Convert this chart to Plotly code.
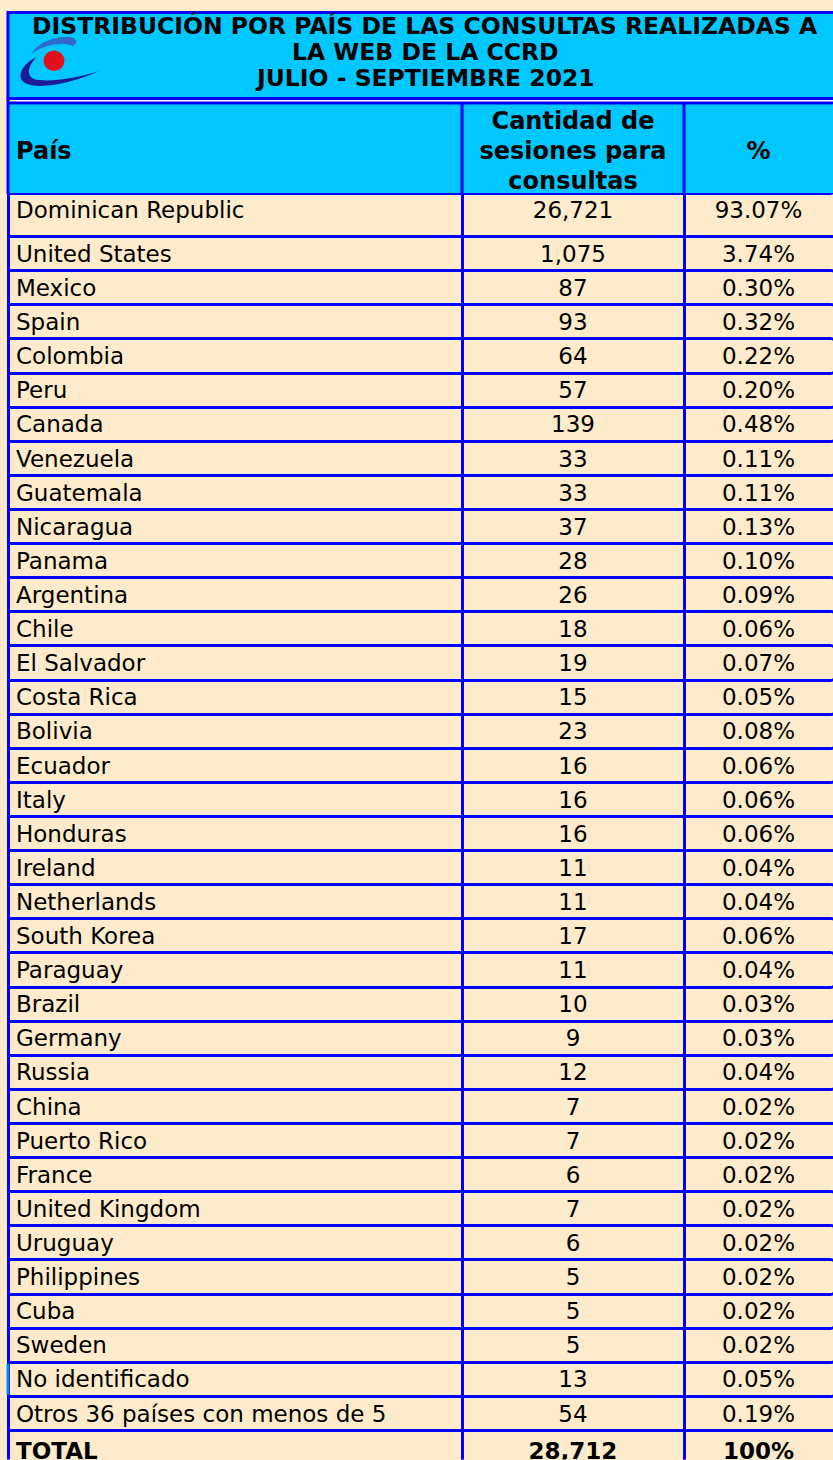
import plotly.graph_objects as go

# ---------------- data ----------------
title_lines = [
    "DISTRIBUCIÓN POR PAÍS DE LAS CONSULTAS REALIZADAS A",
    "LA WEB DE LA CCRD",
    "JULIO - SEPTIEMBRE 2021",
]
header_labels = ["País", ["Cantidad de", "sesiones para", "consultas"], "%"]

countries = [
    "Dominican Republic", "United States", "Mexico", "Spain", "Colombia", "Peru",
    "Canada", "Venezuela", "Guatemala", "Nicaragua", "Panama", "Argentina", "Chile",
    "El Salvador", "Costa Rica", "Bolivia", "Ecuador", "Italy", "Honduras", "Ireland",
    "Netherlands", "South Korea", "Paraguay", "Brazil", "Germany", "Russia", "China",
    "Puerto Rico", "France", "United Kingdom", "Uruguay", "Philippines", "Cuba",
    "Sweden", "No identificado", "Otros 36 países con menos de 5",
]
sessions = [
    26721, 1075, 87, 93, 64, 57, 139, 33, 33, 37, 28, 26, 18, 19, 15, 23, 16, 16,
    16, 11, 11, 17, 11, 10, 9, 12, 7, 7, 6, 7, 6, 5, 5, 5, 13, 54,
]
percents = [
    93.07, 3.74, 0.30, 0.32, 0.22, 0.20, 0.48, 0.11, 0.11, 0.13, 0.10, 0.09, 0.06,
    0.07, 0.05, 0.08, 0.06, 0.06, 0.06, 0.04, 0.04, 0.06, 0.04, 0.03, 0.03, 0.04,
    0.02, 0.02, 0.02, 0.02, 0.02, 0.02, 0.02, 0.02, 0.05, 0.19,
]
total_label = "TOTAL"
total_sessions = 28712
total_percent = "100%"

# ---------------- style / layout constants ----------------
W, H = 833, 1460
CREAM = "#FDEBCB"
CYAN = "#00C8FF"
BLUE = "#0000FF"
FONT = "DejaVu Sans"
LEFT = 8                      # table left edge (px)
COLW = [454, 222, 149]        # column widths (px)
TOP = 103                     # table top (px)
HDR_SUB = 30                  # height of each header sub-line row
FIRST_ROW = 43.6              # first (taller) data row
ROW = 34.11                   # other data rows
BODY_SIZE = 23


def fx(x):
    return x / W


def fy(y):
    return 1 - y / H


def path(cmds):
    out = []
    for letter, pts in cmds:
        out.append(letter + " " + " ".join(f"{fx(x):.5f},{fy(y):.5f}" for x, y in pts))
    return " ".join(out) + " Z"


edges = [LEFT]
for w in COLW:
    edges.append(edges[-1] + w)
hdr_bottom = TOP + 3 * HDR_SUB
a_bottom = hdr_bottom + FIRST_ROW

# formatted columns
names = list(countries) + [f"<b>{total_label}</b>"]
sess_txt = [f"{v:,}" for v in sessions] + [f"<b>{total_sessions:,}</b>"]
pct_txt = [f"{p:.2f}%" for p in percents] + [f"<b>{total_percent}</b>"]

header_rows = [
    ["", header_labels[0], ""],
    header_labels[1],
    ["", header_labels[2], ""],
]

# Table A: column titles + first (taller) data row
table_a = go.Table(
    domain=dict(x=[fx(LEFT), 1], y=[fy(a_bottom + 6), fy(TOP)]),
    columnwidth=COLW,
    header=dict(
        values=header_rows,
        fill_color=CYAN,
        line=dict(color=CYAN, width=0),
        align=["left", "center", "center"],
        font=dict(family=FONT, size=24, color="black", weight="bold"),
        height=HDR_SUB,
    ),
    cells=dict(
        values=[names[:1], sess_txt[:1], pct_txt[:1]],
        fill_color=CREAM,
        line=dict(color=BLUE, width=3),
        align=["left", "center", "center"],
        font=dict(family=FONT, size=BODY_SIZE, color="black"),
        height=FIRST_ROW,
    ),
)

# Table B: remaining rows (second data row acts as the leading row)
table_b = go.Table(
    domain=dict(x=[fx(LEFT), 1], y=[0, fy(a_bottom)]),
    columnwidth=COLW,
    header=dict(
        values=[names[1], sess_txt[1], pct_txt[1]],
        fill_color=CREAM,
        line=dict(color=BLUE, width=3),
        align=["left", "center", "center"],
        font=dict(family=FONT, size=BODY_SIZE, color="black"),
        height=ROW,
    ),
    cells=dict(
        values=[names[2:], sess_txt[2:], pct_txt[2:]],
        fill_color=CREAM,
        line=dict(color=BLUE, width=3),
        align=["left", "center", "center"],
        font=dict(family=FONT, size=BODY_SIZE, color="black"),
        height=ROW,
    ),
)

fig = go.Figure([table_a, table_b])

line_style = dict(color=BLUE, width=3)
shapes = [
    # title block
    dict(type="rect", xref="paper", yref="paper", x0=fx(LEFT), x1=1.02, y0=fy(98.5), y1=fy(12.5),
         fillcolor=CYAN, line=line_style, layer="below"),
    # thin white separator between title block and table
    dict(type="rect", xref="paper", yref="paper", x0=fx(LEFT + 1.5), x1=1.02, y0=fy(101.6), y1=fy(100),
         fillcolor="white", line=dict(width=0), layer="above"),
    # header borders
    dict(type="line", xref="paper", yref="paper", x0=fx(LEFT), x1=1.02, y0=fy(TOP), y1=fy(TOP),
         line=line_style, layer="above"),
]
for e in edges[:3]:
    shapes.append(dict(type="line", xref="paper", yref="paper", x0=fx(e), x1=fx(e),
                       y0=fy(97 if e == LEFT else TOP), y1=fy(hdr_bottom + 1),
                       line=line_style, layer="above"))

# the sheet continues past the right edge: hide the table's outer right border
shapes += [
    dict(type="rect", xref="paper", yref="paper", x0=fx(W - 1.6), x1=1.01,
         y0=fy(hdr_bottom - 1.5), y1=fy(TOP + 1.5), fillcolor=CYAN, line=dict(width=0), layer="above"),
    dict(type="rect", xref="paper", yref="paper", x0=fx(W - 1.6), x1=1.01,
         y0=fy(hdr_bottom + 1.5), y1=fy(a_bottom - 1.5), fillcolor=CREAM, line=dict(width=0), layer="above"),
]
for k in range(len(names) - 1):
    top_y = a_bottom + k * ROW
    shapes.append(dict(type="rect", xref="paper", yref="paper", x0=fx(W - 1.6), x1=1.01,
                       y0=fy(top_y + ROW - 1.5), y1=fy(top_y + 1.5),
                       fillcolor=CREAM, line=dict(width=0), layer="above"))

# lighter left border on the "No identificado" row
k_ni = countries.index("No identificado") - 1
shapes.append(dict(type="line", xref="paper", yref="paper", x0=fx(LEFT), x1=fx(LEFT),
                   y0=fy(a_bottom + k_ni * ROW + 1.5), y1=fy(a_bottom + (k_ni + 1) * ROW - 1.5),
                   line=dict(color="#0A84FF", width=3), layer="above"))

shapes += [
    # logo: dark swoosh
    dict(type="path", xref="paper", yref="paper", fillcolor="#1C1C98", line=dict(width=0),
         path=path([("M", [(37, 57)]),
                    ("C", [(23, 63), (15, 77), (25, 83)]),
                    ("C", [(40, 91), (78, 81), (99, 71)]),
                    ("C", [(78, 78), (47, 83), (34, 79)]),
                    ("C", [(26, 76), (28, 65), (37, 57)])])),
    # logo: light swoosh
    dict(type="path", xref="paper", yref="paper", fillcolor="#2E6BCB", line=dict(width=0),
         path=path([("M", [(31, 54)]),
                    ("C", [(38, 42), (55, 36), (70, 37)]),
                    ("C", [(77, 38), (78, 43), (73, 46)]),
                    ("C", [(62, 42), (45, 44), (31, 54)])])),
    # logo: red dot
    dict(type="circle", xref="paper", yref="paper", x0=fx(43.5), x1=fx(64.5), y0=fy(71), y1=fy(50.5),
         fillcolor="#E3101C", line=dict(width=0)),
]

annotations = []
for i, line in enumerate(title_lines):
    annotations.append(dict(
        text=line, xref="paper", yref="paper", x=fx(425), y=fy([26.5, 52.5, 78.5][i]),
        xanchor="center", yanchor="middle", showarrow=False,
        font=dict(family=FONT, size=23.5, color="black", weight="bold"),
    ))

fig.update_layout(
    width=W, height=H,
    margin=dict(l=0, r=0, t=0, b=0),
    paper_bgcolor=CREAM, plot_bgcolor=CREAM,
    shapes=shapes, annotations=annotations,
    showlegend=False,
)

fig.write_html(
    "out.html",
    config={"displayModeBar": False},
    post_script="document.body.style.margin='0px';",
)
